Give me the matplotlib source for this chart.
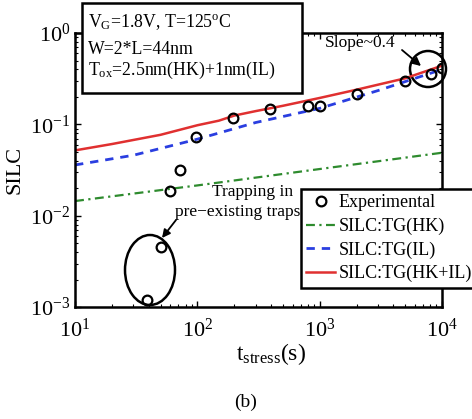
import numpy as np
import matplotlib.pyplot as plt
from matplotlib.patches import Ellipse, Rectangle

plt.rcParams['font.family'] = ['Liberation Serif', 'DejaVu Serif']
plt.rcParams['mathtext.fontset'] = 'stix'

# -------------------------------
# Measured SILC vs stress time
# -------------------------------
t_exp = [39, 50, 60, 72, 98, 197, 390, 800, 1000, 2000, 5000, 8100, 10000]
silc_exp = [0.0012, 0.0045, 0.0186, 0.032, 0.072, 0.117, 0.147, 0.158, 0.158,
            0.215, 0.30, 0.36, 0.41]

# -------------------------------
# Trap-generation model curves
# -------------------------------
t_hk = [10, 100, 1000, 10000]
silc_hk = [0.0145, 0.0215, 0.0325, 0.049]

t_il = [10, 30, 100, 300, 1000, 3000, 10000]
silc_il = [0.036, 0.046, 0.069, 0.105, 0.15, 0.235, 0.40]

t_tot = [10, 20, 50, 100, 150, 200, 300, 500, 1000, 2000, 5000, 10000]
silc_tot = [0.052, 0.061, 0.077, 0.098, 0.110, 0.125, 0.140, 0.160, 0.195,
            0.24, 0.32, 0.44]

fig = plt.figure(figsize=(4.72, 4.19), dpi=100)
ax = fig.add_axes([0.159, 0.267, 0.7775, 0.654])

ax.plot(t_exp, silc_exp, 'o', mfc='none', mec='black', mew=1.6, ms=7,
        label='Experimental', zorder=5)
ax.plot(t_hk, silc_hk, color='#2e8b2e', ls=(0, (4, 2, 1, 2)), lw=1.6,
        label='SILC:TG(HK)')
ax.plot(t_il, silc_il, color='#2a3ee0', ls=(0, (3, 2.5)), lw=2,
        label='SILC:TG(IL)')
ax.plot(t_tot, silc_tot, color='#e03030', lw=1.8, label='SILC:TG(HK+IL)')

ax.set_xscale('log')
ax.set_yscale('log')
ax.set_xlim(10, 1e4)
ax.set_ylim(1e-3, 1)

for s in ax.spines.values():
    s.set_linewidth(1.8)
ax.tick_params(which='both', direction='in', top=True, right=True,
               labelsize=16)
ax.tick_params(which='major', length=4, width=1)
ax.tick_params(which='minor', length=2, width=0.8)
ax.tick_params(axis='x', pad=8)

ax.set_ylabel('SILC', fontsize=16, labelpad=4)
fig.text(0.575, 0.155, r'$\mathregular{t_{stress}}$(s)', fontsize=17,
         ha='center', va='center')
fig.text(0.52, 0.04, '(b)', fontsize=14, ha='center', va='center')

# Condition box
fig.patches.append(Rectangle((82 / 472, 1 - 93 / 419), 220 / 472, 90 / 419,
                             transform=fig.transFigure, fill=True,
                             facecolor='white', edgecolor='black', lw=1.8,
                             zorder=10))
fig.text(88 / 472, 1 - 22 / 419,
         r'V$\mathregular{_G}$=1.8V, T=125$\mathregular{^o}$C',
         fontsize=12.8, va='center', zorder=11)
fig.text(88 / 472, 1 - 49 / 419, 'W=2*L=44nm', fontsize=12.8, va='center',
         zorder=11)
fig.text(88 / 472, 1 - 70 / 419,
         r'T$\mathregular{_{ox}}$=2.5nm(HK)+1nm(IL)', fontsize=12.8,
         va='center', zorder=11)

# Annotations
ax.add_patch(Ellipse((428 / 472, 1 - 69 / 419), 36 / 472, 36 / 419,
                     transform=fig.transFigure, fill=False, lw=1.8,
                     clip_on=False))
fig.text(360 / 472, 1 - 43 / 419, 'Slope~0.4', fontsize=12.5,
         ha='center', va='center')
ax.annotate('', xy=(421 / 472, 1 - 66 / 419),
            xytext=(402 / 472, 1 - 50 / 419), xycoords='figure fraction',
            textcoords='figure fraction',
            arrowprops=dict(arrowstyle='-|>', color='black', lw=1.3,
                            shrinkA=0, shrinkB=0, mutation_scale=12))

ax.add_patch(Ellipse((150 / 472, 1 - 270 / 419), 50 / 472, 70 / 419,
                     transform=fig.transFigure, fill=False, lw=1.8,
                     clip_on=False))
fig.text(253 / 472, 1 - 192 / 419, 'Trapping in', fontsize=12.5,
         ha='center', va='center')
fig.text(238 / 472, 1 - 212 / 419, 'pre\u2212existing traps', fontsize=12.5,
         ha='center', va='center')
ax.annotate('', xy=(162 / 472, 1 - 238 / 419),
            xytext=(176 / 472, 1 - 220 / 419), xycoords='figure fraction',
            textcoords='figure fraction',
            arrowprops=dict(arrowstyle='-|>', color='black', lw=1.3,
                            shrinkA=0, shrinkB=0, mutation_scale=12))

leg = fig.legend(loc='upper left', bbox_to_anchor=(301 / 472, 1 - 189 / 419),
                 fontsize=13, frameon=True, fancybox=False, framealpha=1,
                 edgecolor='black', handlelength=1.6, handletextpad=0.2,
                 borderpad=0.3, labelspacing=0.35, borderaxespad=0)
leg.get_frame().set_linewidth(1.8)
leg.set_zorder(12)

plt.savefig('out.png', dpi=100)
